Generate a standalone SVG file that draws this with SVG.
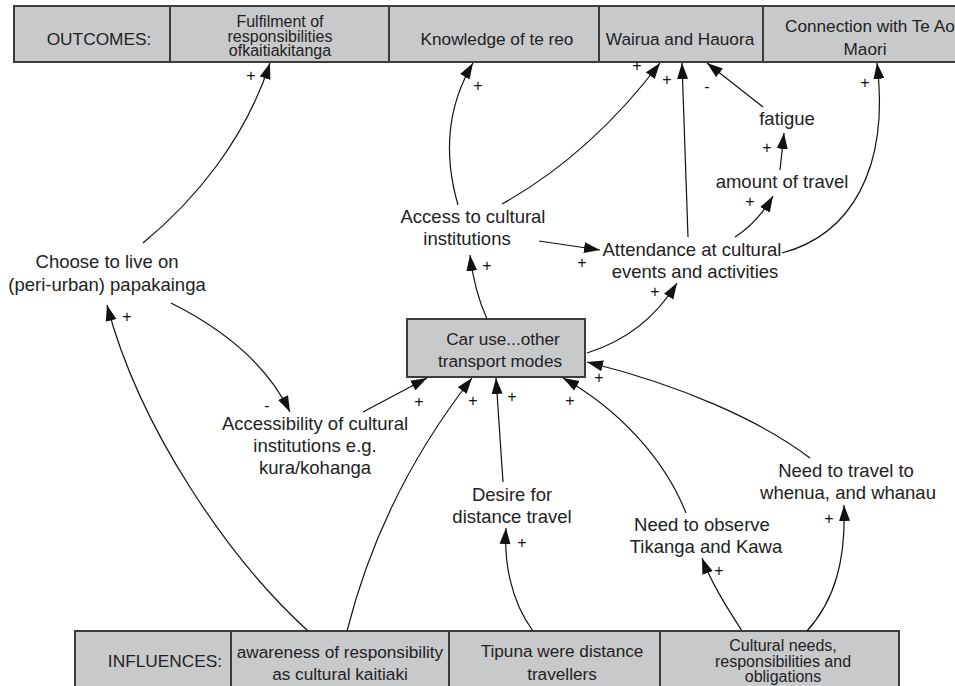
<svg xmlns="http://www.w3.org/2000/svg" width="955" height="686" viewBox="0 0 955 686">
  <style>
    .box { fill: #c8c9cb; stroke: #3c3c3c; stroke-width: 2; }
    .bt { font-family: "Liberation Sans", Arial, sans-serif; font-size: 17.2px; fill: #222; text-anchor: middle; }
    .bs { font-family: "Liberation Sans", Arial, sans-serif; font-size: 16px; fill: #222; text-anchor: middle; }
    .hd { font-family: "Liberation Sans", Arial, sans-serif; font-size: 17.3px; fill: #222; text-anchor: middle; }
    .lbl { font-family: "Liberation Sans", Arial, sans-serif; font-size: 18.5px; fill: #222; text-anchor: middle; }
    .pol { font-family: "Liberation Sans", Arial, sans-serif; font-size: 16px; fill: #111; text-anchor: middle; }
    .link { fill: none; stroke: #111; stroke-width: 1.2; marker-end: url(#arrow); }
  </style>
  <defs>
    <marker id="arrow" viewBox="0 0 16 12" refX="16" refY="6" markerWidth="16" markerHeight="12" markerUnits="userSpaceOnUse" orient="auto">
      <path d="M0,0.5 L16,6 L0,11.5 z" fill="#111"/>
    </marker>
  </defs>
  <rect width="955" height="686" fill="#fff"/>

  <!-- Outcomes row -->
  <g id="outcomes-header">
    <rect class="box" x="14" y="6" width="156" height="56"/>
    <text class="hd" x="99" y="45">OUTCOMES:</text>
  </g>
  <g id="fulfilment">
    <rect class="box" x="170" y="6" width="219" height="56"/>
    <text class="bs" x="280" y="27">Fulfilment of</text>
    <text class="bs" x="280" y="41.5">responsibilities</text>
    <text class="bs" x="280" y="56">ofkaitiakitanga</text>
  </g>
  <g id="knowledge">
    <rect class="box" x="389" y="6" width="210" height="56"/>
    <text class="bt" x="497" y="45">Knowledge of te reo</text>
  </g>
  <g id="wairua">
    <rect class="box" x="599" y="6" width="164" height="56"/>
    <text class="bt" x="680" y="45">Wairua and Hauora</text>
  </g>
  <g id="connection">
    <rect class="box" x="763" y="6" width="210" height="56"/>
    <text class="bt" x="785" y="32" style="text-anchor:start">Connection with Te Ao</text>
    <text class="bt" x="865" y="55">Maori</text>
  </g>

  <!-- Influences row -->
  <g id="influences-header">
    <rect class="box" x="75" y="631" width="156" height="70"/>
    <text class="hd" x="165" y="667">INFLUENCES:</text>
  </g>
  <g id="awareness">
    <rect class="box" x="231" y="631" width="218" height="70"/>
    <text class="bt" x="340" y="658">awareness of responsibility</text>
    <text class="bt" x="340" y="680">as cultural kaitiaki</text>
  </g>
  <g id="tipuna">
    <rect class="box" x="449" y="631" width="211" height="70"/>
    <text class="bt" x="562" y="657">Tipuna were distance</text>
    <text class="bt" x="562" y="680">travellers</text>
  </g>
  <g id="cultural-needs">
    <rect class="box" x="660" y="631" width="239" height="70"/>
    <text class="bs" x="783" y="651">Cultural needs,</text>
    <text class="bs" x="783" y="666.5">responsibilities and</text>
    <text class="bs" x="783" y="682">obligations</text>
  </g>

  <!-- Central variable -->
  <g id="car-use">
    <rect class="box" x="407" y="319" width="178" height="58"/>
    <text class="bt" x="503" y="345">Car use...other</text>
    <text class="bt" x="500" y="367">transport modes</text>
  </g>

  <!-- Intermediate variables -->
  <g id="access">
    <text class="lbl" x="473" y="223">Access to cultural</text>
    <text class="lbl" x="467" y="245">institutions</text>
  </g>
  <g id="attendance">
    <text class="lbl" x="692" y="256">Attendance at cultural</text>
    <text class="lbl" x="695" y="278">events and activities</text>
  </g>
  <g id="fatigue">
    <text class="lbl" x="787" y="125">fatigue</text>
  </g>
  <g id="amount">
    <text class="lbl" x="782" y="188">amount of travel</text>
  </g>
  <g id="choose">
    <text class="lbl" x="107" y="268">Choose to live on</text>
    <text class="lbl" x="107" y="291">(peri-urban) papakainga</text>
  </g>
  <g id="accessibility">
    <text class="lbl" x="315" y="430">Accessibility of cultural</text>
    <text class="lbl" x="315" y="452">institutions e.g.</text>
    <text class="lbl" x="315" y="474">kura/kohanga</text>
  </g>
  <g id="desire">
    <text class="lbl" x="512" y="501">Desire for</text>
    <text class="lbl" x="512" y="523">distance travel</text>
  </g>
  <g id="observe">
    <text class="lbl" x="702" y="531">Need to observe</text>
    <text class="lbl" x="706" y="553">Tikanga and Kawa</text>
  </g>
  <g id="travel-whenua">
    <text class="lbl" x="846" y="477">Need to travel to</text>
    <text class="lbl" x="848" y="499">whenua, and whanau</text>
  </g>

  <!-- Causal links -->
  <g id="connectors">
    <path class="link" d="M143,243 C195,200 245,140 270,63"/>
    <path class="link" d="M458,205 C445,160 445,110 473,63"/>
    <path class="link" d="M502,204 Q590,155 660,63"/>
    <path class="link" d="M688,237 L682,63"/>
    <path class="link" d="M763,107 L707,63"/>
    <path class="link" d="M780,170 L784,133"/>
    <path class="link" d="M735,237 Q758,222 773,196"/>
    <path class="link" d="M782,253 C850,235 890,170 877,63"/>
    <path class="link" d="M539,241 L600,250"/>
    <path class="link" d="M487,319 Q474,290 470,255"/>
    <path class="link" d="M587,353 Q645,335 677,283"/>
    <path class="link" d="M171,303 C215,325 265,360 290,412"/>
    <path class="link" d="M363,412 L427,378"/>
    <path class="link" d="M308,631 C230,560 140,430 107,305"/>
    <path class="link" d="M347,631 C365,560 400,470 472,378"/>
    <path class="link" d="M533,631 C510,600 504,560 506,528"/>
    <path class="link" d="M503,482 L496,378"/>
    <path class="link" d="M686,513 C665,460 620,410 563,378"/>
    <path class="link" d="M742,631 C730,612 712,585 702,558"/>
    <path class="link" d="M807,631 C835,600 846,560 844,505"/>
    <path class="link" d="M810,458 C760,420 680,385 587,362"/>
  </g>

  <!-- Link polarities -->
  <g id="polarities">
    <text class="pol" x="251" y="81">+</text>
    <text class="pol" x="478" y="91">+</text>
    <text class="pol" x="637" y="71">+</text>
    <text class="pol" x="667" y="85">+</text>
    <text class="pol" x="707" y="92">-</text>
    <text class="pol" x="767" y="153">+</text>
    <text class="pol" x="750" y="207">+</text>
    <text class="pol" x="865" y="88">+</text>
    <text class="pol" x="582" y="268">+</text>
    <text class="pol" x="487" y="271">+</text>
    <text class="pol" x="655" y="297">+</text>
    <text class="pol" x="267" y="411">-</text>
    <text class="pol" x="419" y="407">+</text>
    <text class="pol" x="127" y="322">+</text>
    <text class="pol" x="473" y="406">+</text>
    <text class="pol" x="522" y="548">+</text>
    <text class="pol" x="512" y="402">+</text>
    <text class="pol" x="570" y="406">+</text>
    <text class="pol" x="719" y="576">+</text>
    <text class="pol" x="829" y="524">+</text>
    <text class="pol" x="599" y="383">+</text>
  </g>
</svg>
